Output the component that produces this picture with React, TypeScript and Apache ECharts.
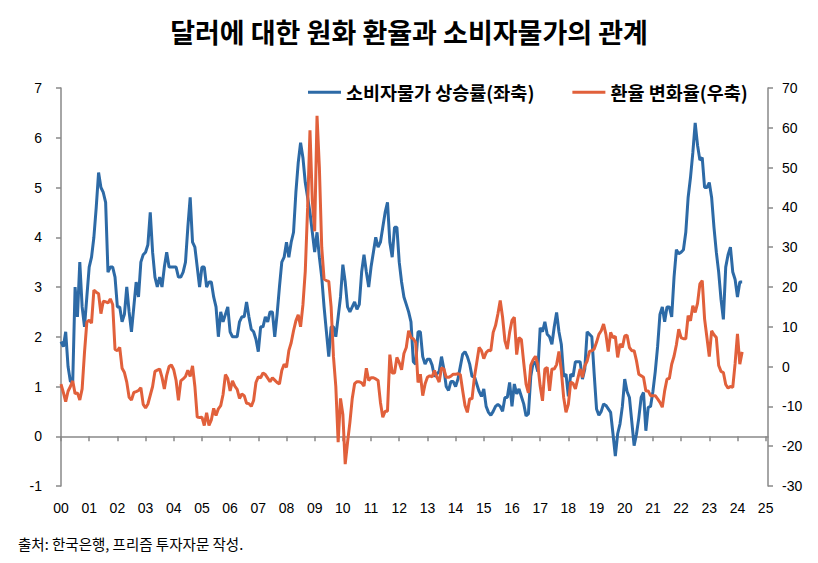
import React, { useEffect, useRef } from "react";
import * as echarts from "echarts";

const titleText = "달러에 대한 원화 환율과 소비자물가의 관계";
const sourceText = "출처: 한국은행, 프리즘 투자자문 작성.";
const cpiName = "소비자물가 상승률(좌축)";
const fxName = "환율 변화율(우축)";

const yearLabels = [
  "00", "01", "02", "03", "04", "05", "06", "07", "08", "09", "10", "11", "12",
  "13", "14", "15", "16", "17", "18", "19", "20", "21", "22", "23", "24", "25",
];

// 소비자물가 상승률 (%, 월별, 2000.01 ~ 2024.03)
const cpiYoY = [
  1.9, 1.8, 2.1, 1.4, 1.1, 1.1, 3.0, 2.4, 3.5, 2.6, 2.2, 2.8,
  3.4, 3.6, 4.0, 4.6, 5.3, 5.0, 4.9, 4.7, 3.3, 3.4, 3.4, 3.2,
  2.6, 2.6, 2.3, 2.45, 3.0, 2.5, 2.1, 2.6, 3.1, 2.8, 3.5, 3.65,
  3.7, 3.85, 4.5, 3.7, 3.2, 3.0, 3.2, 3.0, 3.4, 3.7, 3.4, 3.4,
  3.4, 3.4, 3.2, 3.2, 3.3, 3.5, 4.2, 4.8, 3.9, 3.8, 3.4, 3.0,
  3.4, 3.4, 3.0, 3.1, 3.1, 2.8, 2.6, 2.0, 2.5, 2.3, 2.45, 2.6,
  2.1, 2.0, 2.0, 2.0, 2.3, 2.4, 2.4, 2.7, 2.4, 2.15, 2.1, 1.95,
  1.7, 2.2, 2.2, 2.4, 2.3, 2.5, 2.5, 2.0, 2.45, 3.0, 3.5, 3.6,
  3.9, 3.6, 3.9, 4.1, 4.9, 5.5, 5.9, 5.6, 5.1, 4.8, 4.5, 4.1,
  3.7, 4.1, 3.6, 3.2, 2.6, 2.1, 1.6, 2.2, 2.2, 2.0, 2.4, 2.8,
  3.45, 3.1, 2.6, 2.5, 2.6, 2.7, 2.55, 2.65, 3.3, 3.65, 3.3, 3.0,
  3.4, 3.7, 4.0, 3.8, 3.9, 4.2, 4.5, 4.7, 3.9, 3.6, 4.2, 4.2,
  3.5, 3.1, 2.8, 2.65, 2.5, 2.3, 1.5, 1.45, 2.1, 2.1, 1.6, 1.45,
  1.55, 1.55, 1.43, 1.2, 1.25, 1.3, 1.6, 1.35, 1.0, 0.92, 1.1, 1.1,
  1.0, 1.15, 1.4, 1.65, 1.7, 1.6, 1.45, 1.2, 1.2, 1.05, 0.9, 0.8,
  0.95, 0.6, 0.48, 0.42, 0.5, 0.6, 0.64, 0.6, 0.5, 0.78, 0.78, 1.08,
  0.6, 1.05, 0.85, 0.95, 0.8, 0.65, 0.41, 0.45, 1.2, 1.48, 1.48, 1.3,
  2.18, 2.1, 2.3, 2.05, 2.0, 1.85, 2.2, 2.49, 2.1, 1.85, 1.2, 1.25,
  0.8, 1.25, 1.2, 1.5, 1.5, 1.5, 1.15, 1.35, 2.1, 2.05, 2.0, 1.25,
  0.55, 0.42, 0.5, 0.65, 0.62, 0.55, 0.48, 0.05, -0.4, 0.05, 0.25, 0.6,
  1.15, 0.9, 0.78, 0.3, -0.19, 0.04, 0.37, 0.78, 0.88, 0.11, 0.58, 0.6,
  0.9, 1.3, 1.8, 2.45, 2.6, 2.3, 2.6, 2.6, 2.4, 3.2, 3.75, 3.67,
  3.7, 3.75, 4.1, 4.8, 5.2, 5.7, 6.3, 5.85, 5.55, 5.6, 5.0, 5.0,
  5.1, 4.8, 4.2, 3.7, 3.3, 2.75, 2.35, 3.4, 3.65, 3.8, 3.3, 3.15,
  2.8, 3.1, 3.1,
];

// 원/달러 환율 변화율 (%, 전년동월비, 2000.01 ~ 2024.03)
const fxYoY = [
  -4.4, -6.5, -8.8, -6.2, -5.0, -3.6, -6.8, -6.6, -8.4, -5.6, 3.5, 11.2,
  11.7, 10.9, 19.2, 18.7, 18.3, 13.3, 16.4, 16.3, 16.0, 17.0, 15.6, 4.3,
  4.0, 4.8, -0.4, -1.5, -3.9, -7.7, -8.4, -6.5, -6.3, -6.0, -5.3, -9.5,
  -10.4, -9.4, -7.2, -5.0, -1.2, -0.9, -0.6, -2.7, -5.6, -2.2, 0.0, 0.4,
  -0.8, -3.5, -8.5, -3.6, -3.1, -2.5, -0.9, -2.5, 0.2, -5.0, -12.7, -12.8,
  -12.7, -14.8, -11.6, -14.8, -13.4, -10.5, -12.3, -10.6, -9.8, -7.0, -2.0, -3.0,
  -6.1, -3.6, -4.9, -5.7, -8.0, -6.9, -7.3, -9.2, -9.3, -10.0, -8.5, -4.0,
  -2.6, -2.8, -1.6, -2.0, -2.9, -3.8, -2.8, -3.4, -4.0, -4.4, -1.0, 0.6,
  -0.2, 4.0, 6.0, 9.0, 11.5, 13.0, 10.0, 15.5, 24.0, 40.0, 59.4, 41.7,
  34.0, 63.0, 50.0, 30.0, 22.0, 21.6, 21.4, 15.0, 2.5, -5.0, -19.0, -8.0,
  -12.0, -24.5, -19.0, -14.0, -8.0, -4.3, -3.8, -3.8, -4.1, -4.9, -0.4, -3.5,
  -2.8, -2.8, -3.1, -3.5, -9.0, -12.7, -11.2, -11.2, 3.0, -1.6, -1.6, 2.3,
  1.0, -0.8, 3.3, 4.8, 9.0, 7.3, 7.0, 6.1, -4.0, -1.9, -7.3, -4.4,
  -2.7, -2.3, -2.6, -1.0, -2.6, -3.9, -0.3, -0.6, -2.7, -2.7, -2.4, -1.9,
  -1.9, -1.8, -2.0, -6.0, -9.8, -11.5, -8.1, -8.1, -2.7, 1.0, 4.8, 4.0,
  2.0, 3.5, 4.1, 4.0, 8.6, 10.3, 13.2, 16.6, 12.4, 6.5, 4.4, 8.6,
  11.6, 12.4, 3.0, 7.3, 6.8, 1.0, -4.4, -6.6, 0.3, 1.7, 2.6, 0.5,
  -4.9, -8.6, -0.6, -0.2, -6.1, -0.6, -0.6, 0.5, 3.8, -1.0, -7.7, -11.5,
  -9.5, -3.9, -4.2, -5.6, -3.1, -0.6, -2.7, 0.2, 1.4, 3.8, 4.0, 4.4,
  6.1, 8.1, 9.0, 10.7, 8.1, 3.8, 8.6, 7.3, 7.6, 2.3, 5.7, 4.8,
  7.7, 7.9, 4.8, 4.0, 4.0, 1.5, -1.9, -2.3, -2.7, -6.1, -6.1, -7.3,
  -7.3, -7.3, -8.1, -9.0, -10.2, -6.1, -3.1, -3.0, 0.6, 2.6, 5.5, 9.4,
  7.3, 7.0, 7.0, 12.8, 11.5, 15.3, 13.6, 15.9, 20.8, 21.6, 12.0, 7.3,
  2.5, 9.0, 8.0, 7.3, 0.3, -1.2, -1.5, -4.5, -5.4, -5.0, -5.2, 0.8,
  8.2, 0.6, 3.7,
];

const BLUE = "#2D6AA6";
const RED = "#E1603B";
const AXIS = "#898989";
const FONT = "'Liberation Sans', Arial, 'Noto Sans CJK KR', sans-serif";
const KFONT = "'Noto Sans CJK KR', 'Liberation Sans', sans-serif";

// month categories 2000-01 .. 2025-02 (302 slots)
const categories: string[] = [];
yearLabels.forEach((y) => {
  for (let m = 1; m <= 12; m++) categories.push(`${y}-${m}`);
});
const monthCats = categories.slice(0, 302);

export default function App() {
  const ref = useRef<HTMLDivElement>(null);
  useEffect(() => {
    if (!ref.current) return;
    const chart = echarts.init(ref.current, undefined, { renderer: "svg" });
    const isYear = (i: number) => i % 12 === 0;
    chart.setOption({
      animation: false,
      backgroundColor: "#ffffff",
      title: {
        text: titleText,
        left: "center",
        top: 13,
        textStyle: { fontFamily: KFONT, fontSize: 27, fontWeight: "bold", color: "#000" },
      },
      legend: {
        data: [cpiName, fxName],
        left: 303,
        top: 78,
        icon: "rect",
        itemWidth: 33,
        itemHeight: 3,
        itemGap: 38,
        textStyle: { fontFamily: KFONT, fontSize: 18.5, fontWeight: "bold", color: "#000" },
      },
      grid: { left: 61, right: 50, top: 88, bottom: 77, containLabel: false },
      xAxis: [
        {
          type: "category",
          data: monthCats,
          boundaryGap: false,
          position: "bottom",
          axisLine: { show: true, onZero: true, onZeroAxisIndex: 0, lineStyle: { color: AXIS, width: 1.5 } },
          axisTick: { show: true, interval: (i: number) => isYear(i), length: 5, lineStyle: { color: AXIS, width: 1.5 } },
          axisLabel: { show: false },
          splitLine: { show: false },
        },
        {
          type: "category",
          data: monthCats,
          boundaryGap: false,
          position: "bottom",
          axisLine: { show: false, onZero: false },
          axisTick: { show: false },
          axisLabel: {
            interval: (i: number) => isYear(i),
            formatter: (_v: string, i: number) => yearLabels[i / 12] ?? "",
            fontFamily: FONT,
            fontSize: 14,
            color: "#000",
            margin: 15,
          },
          splitLine: { show: false },
        },
      ],
      yAxis: [
        {
          type: "value",
          min: -1,
          max: 7,
          interval: 1,
          position: "left",
          axisLine: { show: true, lineStyle: { color: AXIS, width: 1.5 } },
          axisTick: { show: true, length: 5, lineStyle: { color: AXIS, width: 1.5 } },
          axisLabel: { fontFamily: FONT, fontSize: 14, color: "#000", margin: 19 },
          splitLine: { show: false },
        },
        {
          type: "value",
          min: -30,
          max: 70,
          interval: 10,
          position: "right",
          axisLine: { show: true, lineStyle: { color: AXIS, width: 1.5 } },
          axisTick: { show: true, length: 5, lineStyle: { color: AXIS, width: 1.5 } },
          axisLabel: { fontFamily: FONT, fontSize: 14, color: "#000", margin: 14 },
          splitLine: { show: false },
        },
      ],
      series: [
        {
          name: cpiName,
          type: "line",
          xAxisIndex: 0,
          yAxisIndex: 0,
          data: cpiYoY,
          symbol: "none",
          showSymbol: false,
          lineStyle: { color: BLUE, width: 3 },
          itemStyle: { color: BLUE },
        },
        {
          name: fxName,
          type: "line",
          xAxisIndex: 0,
          yAxisIndex: 1,
          data: fxYoY,
          symbol: "none",
          showSymbol: false,
          lineStyle: { color: RED, width: 3 },
          itemStyle: { color: RED },
        },
      ],
      graphic: [
        {
          type: "text",
          left: 18,
          top: 536,
          style: { text: sourceText, fontFamily: KFONT, fontSize: 14.5, fill: "#000" },
        },
      ],
    });
    return () => chart.dispose();
  }, []);
  return (
    <div
      ref={ref}
      style={{ position: "fixed", left: 0, top: 0, width: 818, height: 563, background: "#fff" }}
    />
  );
}
